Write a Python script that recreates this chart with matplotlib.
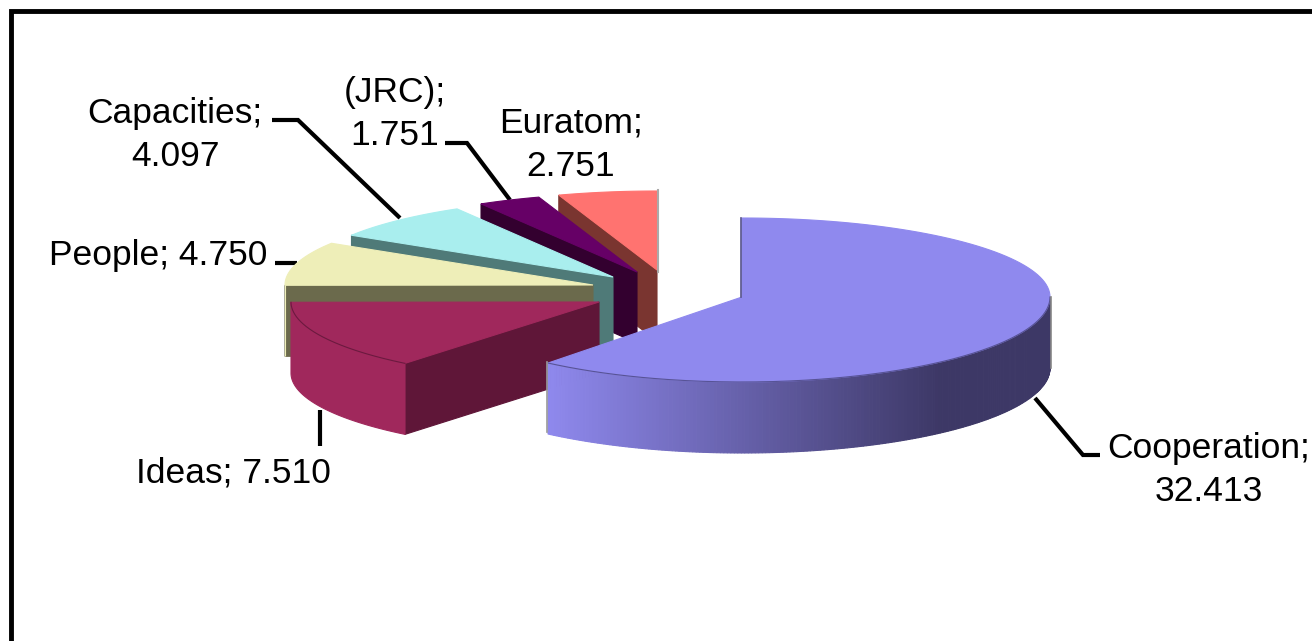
import numpy as np
import matplotlib
matplotlib.use('Agg')
import matplotlib.pyplot as plt
from matplotlib.colors import to_rgb

plt.rcParams['font.family'] = ['Liberation Sans', 'DejaVu Sans']

# Slices in clockwise order, starting from 12 o'clock
names = ['Cooperation', 'Ideas', 'People', 'Capacities', '(JRC)', 'Euratom']
values = [32.413, 7.510, 4.750, 4.097, 1.751, 2.751]

top_colors = ['#8f89ee', '#a0285c', '#eeeeb8', '#a9eeee', '#660066', '#ff7370']
wall_colors = ['#4a4680', '#5f1638', '#6b6a4c', '#4f7a78', '#33002f', '#7a3530']

# where each exploded slice has its tip, in pixels
tips = [(742, 297), (599, 302), (593, 285), (613, 277), (637, 272), (657, 270)]

rx, ry, depth = 308, 79, 71
front_ry = [85, 79, 79, 79, 79, 79]

fig = plt.figure(figsize=(13.12, 6.41), dpi=100)
ax = fig.add_axes([0, 0, 1, 1])
ax.set_xlim(0, 1312)
ax.set_ylim(641, 0)
ax.axis('off')


def arc(i, a1, a2, n=120):
    # the lower half of the ellipse is a little deeper on the big slice
    tip = tips[i]
    t = np.radians(np.linspace(a1, a2, n))
    s = np.sin(t)
    return tip[0] + rx * np.cos(t), tip[1] - np.where(s < 0, front_ry[i], ry) * s


def draw_slice(i, a1, a2):
    tip = tips[i]
    wall = wall_colors[i]
    z = i_order[i]

    # radial wall on the clockwise start of the slice
    ex, ey = arc(i, a1, a1, 1)
    ax.fill([ex[0], tip[0], tip[0], ex[0]],
            [ey[0], tip[1], tip[1] + depth, ey[0] + depth],
            color=wall, lw=0.8, zorder=z)

    # outer wall, only the part facing the viewer
    lo, hi = max(a2, -180), min(a1, 0)
    if lo < hi:
        x, y = arc(i, hi, lo, 200)
        if i == 0:
            # cooperation has a light to dark shading along the wall
            light = np.array(to_rgb('#8f89ee'))
            dark = np.array(to_rgb('#3d3866'))
            for k in range(len(x) - 1):
                f = np.clip((x[k] - 548) / (940 - 548), 0, 1)
                c = light + (dark - light) * f
                ax.fill([x[k], x[k + 1], x[k + 1], x[k]],
                        [y[k], y[k + 1], y[k + 1] + depth, y[k] + depth],
                        color=c, lw=0.8, zorder=z)
        else:
            ax.fill(np.r_[x, x[::-1]], np.r_[y, y[::-1] + depth],
                    color=top_colors[i], lw=0.8, zorder=z)
        # dark rim between top and wall
        ax.plot(x, y, color=wall, lw=0.8, alpha=0.8, zorder=z + 0.6)

    # top face
    x, y = arc(i, a1, a2)
    ax.fill(np.r_[tip[0], x], np.r_[tip[1], y], color=top_colors[i], lw=0.8,
            zorder=z + 0.5)


total = sum(values)
angles = 90 - np.r_[0, np.cumsum(values)] / total * 360
i_order = [6, 5, 4, 3, 2, 1]
for i in range(len(values)):
    draw_slice(i, angles[i], angles[i + 1])

# thin grey edges left by the renderer
ax.plot([658, 658], [190, 272], color='#aaaaaa', lw=1.5, zorder=1.6)
ax.plot([741, 741], [218, 297], color='#55528a', lw=1.2, zorder=6.7)
ax.plot([547, 547], [362, 432], color='#999999', lw=1.2, zorder=6.7)
ax.plot([1051, 1051], [297, 368], color='#888888', lw=1.2, zorder=6.7)

# leader lines
leaders = [
    ([1035, 1083, 1100], [398, 455, 455]),
    ([320, 320], [410, 446]),
    ([275, 297], [263, 263]),
    ([272, 298, 400], [120, 120, 218]),
    ([445, 467, 510], [143, 143, 200]),
]
for lx, ly in leaders:
    ax.plot(lx, ly, color='black', lw=3, solid_joinstyle='miter',
            solid_capstyle='butt', zorder=0.5)

# labels
fs = 25.5
sp = 1.4
ax.text(1209, 470, 'Cooperation;\n32.413', ha='center', va='center', fontsize=fs, linespacing=sp, zorder=10)
ax.text(233, 473, 'Ideas; 7.510', ha='center', va='center', fontsize=fs, zorder=10)
ax.text(158, 256, 'People; 4.750', ha='center', va='center', fontsize=fs, zorder=10)
ax.text(175, 135, 'Capacities;\n4.097', ha='center', va='center', fontsize=fs, linespacing=sp, zorder=10)
ax.text(395, 114, '(JRC);\n1.751', ha='center', va='center', fontsize=fs, linespacing=sp, zorder=10)
ax.text(571, 145, 'Euratom;\n2.751', ha='center', va='center', fontsize=fs, linespacing=sp, zorder=10)

# frame, only top and left reach inside the picture
ax.plot([11, 11, 1312], [641, 11, 11], color='black', lw=3.5,
        solid_joinstyle='miter', zorder=11)

fig.savefig('out.png', dpi=100)
